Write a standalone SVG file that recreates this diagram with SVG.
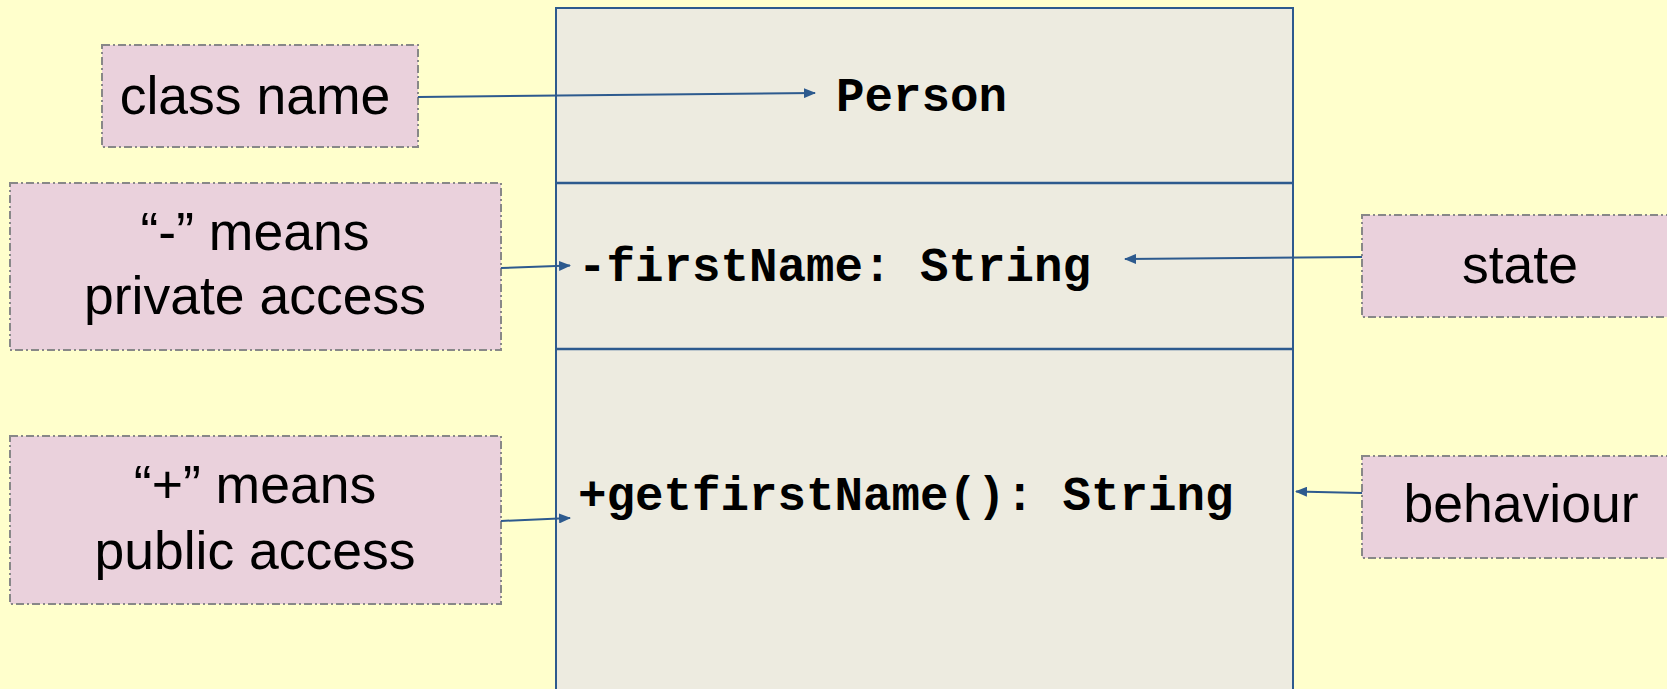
<svg xmlns="http://www.w3.org/2000/svg" width="1667" height="689" viewBox="0 0 1667 689">
<style>
.callout{fill:#EAD1DC;stroke:#888888;stroke-width:2;stroke-dasharray:8 3 2 3}
.ct{font-family:"Liberation Sans",Arial,sans-serif;font-size:53.5px;fill:#000;text-anchor:middle}
.code{font-family:"Liberation Mono","Courier New",monospace;font-weight:bold;font-size:47.5px;fill:#000}
.conn{stroke:#2D5A8E;stroke-width:2;fill:none;marker-end:url(#ah)}
.cls{fill:#EDEBE0;stroke:#2D5A8E;stroke-width:2}
</style>
<defs>
<marker id="ah" markerWidth="6" markerHeight="5" refX="5.5" refY="2.5" orient="auto" markerUnits="strokeWidth">
<path d="M0,0 L6,2.5 L0,5 Z" fill="#2D5A8E"/>
</marker>
</defs>
<rect x="0" y="0" width="1667" height="689" fill="#FFFFCC"/>
<g id="class-person">
<rect class="cls" x="556" y="8" width="737" height="700"/>
<line x1="556" y1="183" x2="1293" y2="183" stroke="#2D5A8E" stroke-width="2.5"/>
<line x1="556" y1="349" x2="1293" y2="349" stroke="#2D5A8E" stroke-width="2.5"/>
<text class="code" x="836" y="111">Person</text>
<text class="code" x="578" y="281">-firstName: String</text>
<text class="code" x="578" y="510">+getfirstName(): String</text>
</g>
<g id="note-classname">
<rect class="callout" x="102" y="45" width="316" height="102"/>
<text class="ct" x="255" y="114">class name</text>
</g>
<g id="note-private">
<rect class="callout" x="10" y="183" width="491" height="167"/>
<text class="ct" x="255" y="250">“-” means</text>
<text class="ct" x="255" y="314">private access</text>
</g>
<g id="note-public">
<rect class="callout" x="10" y="436" width="491" height="168"/>
<text class="ct" x="255" y="503">“+” means</text>
<text class="ct" x="255" y="569">public access</text>
</g>
<g id="note-state">
<rect class="callout" x="1362" y="215" width="316" height="102"/>
<text class="ct" x="1520" y="283">state</text>
</g>
<g id="note-behaviour">
<rect class="callout" x="1362" y="456" width="316" height="102"/>
<text class="ct" x="1521" y="522">behaviour</text>
</g>
<g id="connectors">
<line class="conn" x1="418" y1="97" x2="815" y2="93"/>
<line class="conn" x1="501" y1="268" x2="570" y2="265.5"/>
<line class="conn" x1="501" y1="521" x2="570" y2="518"/>
<line class="conn" x1="1362" y1="257" x2="1125" y2="259"/>
<line class="conn" x1="1362" y1="493" x2="1296" y2="491.5"/>
</g>
</svg>
